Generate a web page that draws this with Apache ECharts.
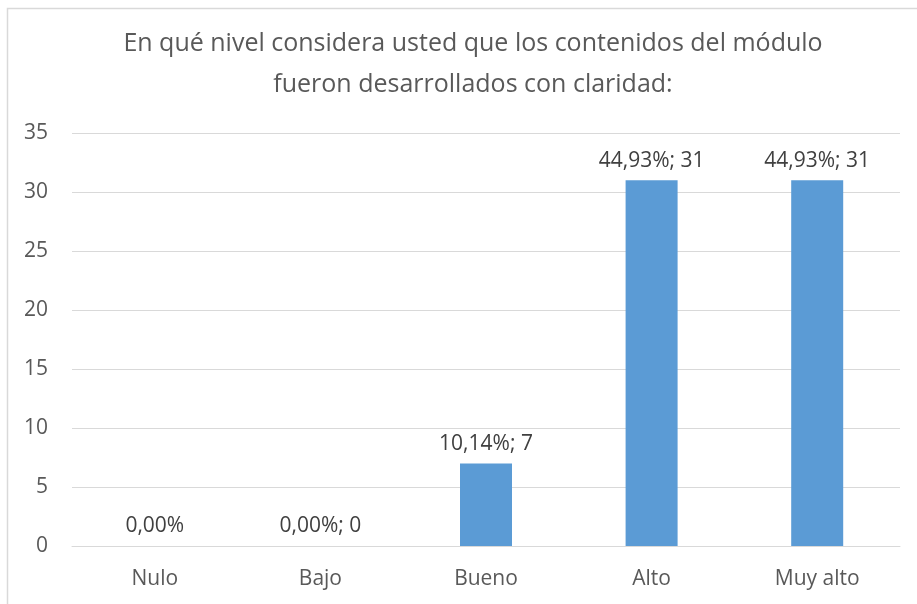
<!DOCTYPE html>
<html>
<head>
<meta charset="utf-8">
<script src="https://cdn.jsdelivr.net/npm/echarts@6/dist/echarts.min.js"></script>
<style>
  html, body { margin: 0; padding: 0; background: #fff; }
  #chart { width: 917px; height: 604px; }
</style>
</head>
<body>
<div id="chart"></div>
<script>
// valores del gráfico
const categorias = ['Nulo', 'Bajo', 'Bueno', 'Alto', 'Muy alto'];
const respuestas = [0, 0, 7, 31, 31];
const etiquetas = ['0,00%', '0,00%; 0', '10,14%; 7', '44,93%; 31', '44,93%; 31'];
const titulo = 'En qué nivel considera usted que los contenidos del módulo\nfueron desarrollados con claridad:';

const fuente = '"Open Sans", "Noto Sans", sans-serif';
const chart = echarts.init(document.getElementById('chart'));

chart.setOption({
  animation: false,
  title: {
    text: titulo,
    left: 468,
    top: 18,
    textAlign: 'center',
    textStyle: { color: '#595959', fontSize: 25, fontWeight: 'normal', lineHeight: 41, fontFamily: fuente }
  },
  graphic: [{
    type: 'rect',
    shape: { x: 7.5, y: 8.5, width: 940, height: 640 },
    style: { fill: 'none', stroke: '#d9d9d9', lineWidth: 1.5 },
    silent: true
  }],
  grid: { left: 72, right: 17, top: 133, bottom: 58 },
  xAxis: {
    type: 'category',
    data: categorias,
    axisLine: { lineStyle: { color: '#d9d9d9', width: 1 } },
    axisTick: { show: false },
    axisLabel: { color: '#595959', fontSize: 21, margin: 23, fontFamily: fuente }
  },
  yAxis: {
    type: 'value',
    min: 0, max: 35, interval: 5,
    axisLine: { show: false },
    axisTick: { show: false },
    splitLine: { lineStyle: { color: '#d9d9d9', width: 1 } },
    axisLabel: { color: '#595959', fontSize: 21, margin: 24, fontFamily: fuente }
  },
  series: [{
    type: 'bar',
    data: respuestas,
    barWidth: 52,
    itemStyle: { color: '#5b9bd5' },
    label: {
      show: true,
      position: 'top',
      distance: 9,
      color: '#404040',
      fontSize: 21,
      fontFamily: fuente,
      formatter: p => etiquetas[p.dataIndex]
    }
  }]
});
</script>
</body>
</html>
